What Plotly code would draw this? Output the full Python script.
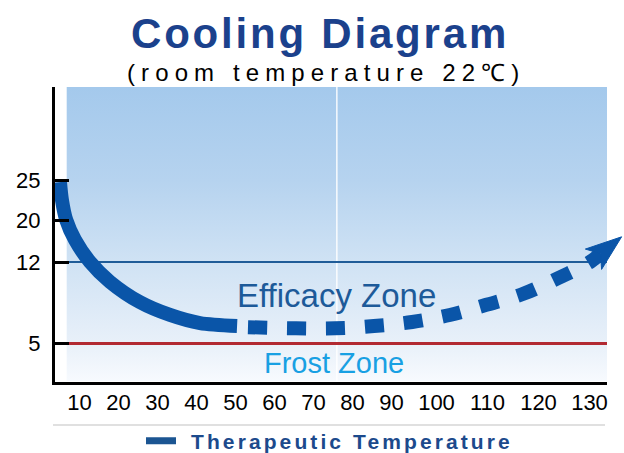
import numpy as np
import plotly.graph_objects as go

# ---- data -------------------------------------------------------------
# Therapeutic temperature (°C) against time (minutes)
MEASURED_MIN = [5.0, 5.5, 6.6, 8.85, 12.7, 17.8, 25.5, 33.2, 40.9, 50.4]
MEASURED_TEMP = [24.75, 22.5, 20.0, 16.2, 12.0, 10.3, 8.55, 7.45, 6.75, 6.5]
PROJECTED_MIN = [53.2, 65.5, 75.5, 85.5, 94.6, 102.6, 109.6, 116.9, 123.8, 130.1, 136.3]
PROJECTED_TEMP = [6.4, 6.3, 6.3, 6.5, 6.85, 7.45, 8.3, 9.25, 10.6, 12.0, 16.8]

EFFICACY_LIMIT = 12
FROST_LIMIT = 5

X_LABELS = [10, 20, 30, 40, 50, 60, 70, 80, 90, 100, 110, 120, 130]
Y_LABELS = [5, 12, 20, 25]

# ---- layout -----------------------------------------------------------
W, H = 624, 453
M_L, M_R, M_T, M_B = 55, 0, 87, 70
PW, PH = W - M_L - M_R, H - M_T - M_B   # axis units == screen pixels

# schematic (non-uniform) axis scales: label -> position on the axis
X_TICK_POS = [24.5, 63.5, 102.5, 141.5, 180.5, 219.5, 258.5, 297.5, 336.5,
              381.5, 432.5, 483.5, 534.5]
Y_TICK_POS = [39.5, 121, 163, 203]
PANEL_X = [11.7, 552]
PANEL_Y = [2, PH]

# arrow head geometry (pixels)
HEAD_LEN, HEAD_HALF_W, HEAD_NOTCH = 36, 13, 9

CURVE = "#0a55a8"
LEGEND_DASH = "#1b5592"
FONT = "Liberation Sans, Arial, sans-serif"


def scale(vals, knots, pos):
    vals = np.asarray(vals, float)
    out = np.interp(vals, knots, pos)
    lo = (pos[1] - pos[0]) / (knots[1] - knots[0])
    hi = (pos[-1] - pos[-2]) / (knots[-1] - knots[-2])
    out = np.where(vals < knots[0], pos[0] + (vals - knots[0]) * lo, out)
    out = np.where(vals > knots[-1], pos[-1] + (vals - knots[-1]) * hi, out)
    return out


def sx(m):
    return scale(m, X_LABELS, X_TICK_POS)


def sy(t):
    return scale(t, Y_LABELS, Y_TICK_POS)


def px(x):
    return (x - M_L) / PW


def py(y):
    return (H - M_B - y) / PH


fig = go.Figure()

# gradient panel
fig.add_trace(go.Scatter(
    x=[PANEL_X[0], PANEL_X[1], PANEL_X[1], PANEL_X[0], PANEL_X[0]],
    y=[PANEL_Y[0], PANEL_Y[0], PANEL_Y[1], PANEL_Y[1], PANEL_Y[0]],
    mode="none", fill="toself", hoverinfo="skip", showlegend=False,
    fillgradient=dict(
        type="vertical", start=PANEL_Y[0], stop=PANEL_Y[1],
        colorscale=[[0.0, "#f7fafe"], [0.13, "#e8f0f9"], [0.41, "#cfe2f4"],
                    [0.68, "#b6d3ef"], [1.0, "#a4c9ec"]],
    ),
))

# panel divider
mid = (PANEL_X[0] + PANEL_X[1]) / 2
fig.add_trace(go.Scatter(
    x=[mid, mid], y=PANEL_Y, mode="lines", hoverinfo="skip", showlegend=False,
    line=dict(color="rgba(255,255,255,0.9)", width=1.5),
))

# efficacy / frost limits
for val, col, w in [(EFFICACY_LIMIT, "#1f5c98", 2), (FROST_LIMIT, "#b22a32", 3)]:
    yv = float(sy(val))
    fig.add_trace(go.Scatter(
        x=[PANEL_X[0], PANEL_X[1]], y=[yv, yv], mode="lines",
        hoverinfo="skip", showlegend=False, line=dict(color=col, width=w),
    ))

# measured part of the curve
fig.add_trace(go.Scatter(
    x=sx(MEASURED_MIN), y=sy(MEASURED_TEMP), mode="lines",
    line=dict(color=CURVE, width=14, shape="spline", smoothing=0.8),
    showlegend=False,
))

# projected part: dashed curve ending in an arrow head at the last point
proj_x, proj_y = sx(PROJECTED_MIN), sy(PROJECTED_TEMP)
tip = np.array([proj_x[-1], proj_y[-1]])
d = tip - np.array([proj_x[-2], proj_y[-2]])
d /= np.hypot(*d)
nrm = np.array([-d[1], d[0]])
base = tip - HEAD_LEN * d
notch = tip - (HEAD_LEN - HEAD_NOTCH) * d
head = np.array([tip, base + HEAD_HALF_W * nrm, notch, base - HEAD_HALF_W * nrm, tip])

fig.add_trace(go.Scatter(
    x=np.append(proj_x[:-1], notch[0]), y=np.append(proj_y[:-1], notch[1]),
    mode="lines", showlegend=False,
    line=dict(color=CURVE, width=14, shape="spline", smoothing=1.0, dash="19px,20px"),
))
fig.add_trace(go.Scatter(
    x=head[:, 0], y=head[:, 1], mode="lines", fill="toself",
    fillcolor=CURVE, line=dict(color=CURVE, width=1),
    hoverinfo="skip", showlegend=False,
))

# legend entry
fig.add_trace(go.Scatter(
    x=[None], y=[None], mode="lines",
    line=dict(color=LEGEND_DASH, width=7, dash="30px,100px"),
    name='<span style="letter-spacing:3.1px">Therapeutic Temperature</span>',
))

fig.update_layout(
    width=W, height=H,
    margin=dict(l=M_L, r=M_R, t=M_T, b=M_B, autoexpand=False),
    paper_bgcolor="white", plot_bgcolor="white",
    font=dict(family=FONT, color="black"),
    xaxis=dict(
        range=[0, PW], showgrid=False, zeroline=False, showline=False,
        tickmode="array", tickvals=X_TICK_POS, ticktext=[str(v) for v in X_LABELS],
        ticks="", ticklabelstandoff=4, automargin=False,
        tickfont=dict(size=22, family=FONT, color="black"),
    ),
    yaxis=dict(
        range=[0, PH], showgrid=False, zeroline=False,
        showline=True, linewidth=3, linecolor="black",
        tickmode="array", tickvals=Y_TICK_POS, ticktext=[str(v) for v in Y_LABELS],
        ticks="inside", ticklen=14, tickwidth=2.5, tickcolor="black",
        ticklabelstandoff=7, automargin=False,
        tickfont=dict(size=22, family=FONT, color="black"),
    ),
    showlegend=True,
    legend=dict(
        orientation="h", xref="paper", yref="paper",
        x=px(141), xanchor="left", y=py(441), yanchor="middle",
        itemwidth=40, font=dict(size=21, family=FONT, color="#1c4a8c", weight="bold"),
        bgcolor="rgba(0,0,0,0)",
    ),
    shapes=[
        # x axis line
        dict(type="line", xref="paper", yref="paper",
             x0=px(52), x1=px(55) + PANEL_X[1] / PW, y0=py(383.5), y1=py(383.5),
             line=dict(color="black", width=3)),
        # separator above the legend
        dict(type="line", xref="paper", yref="paper",
             x0=px(53), x1=px(605), y0=py(425), y1=py(425),
             line=dict(color="#e0e0e0", width=2)),
    ],
    annotations=[
        dict(text='<span style="letter-spacing:2.8px">Cooling Diagram</span>',
             xref="paper", yref="paper", x=px(320), y=py(33.5),
             xanchor="center", yanchor="middle", showarrow=False,
             font=dict(size=42, family=FONT, color="#1b418c", weight="bold")),
        dict(text='<span style="letter-spacing:6.1px">(room temperature 22℃)</span>',
             xref="paper", yref="paper", x=px(326), y=py(72),
             xanchor="center", yanchor="middle", showarrow=False,
             font=dict(size=24, family=FONT, color="black")),
        dict(text="Efficacy Zone", xref="x", yref="y", x=mid, y=float(sy(9.1)),
             xanchor="center", yanchor="middle", showarrow=False,
             font=dict(size=33, family=FONT, color="#1d5a99")),
        dict(text="Frost Zone", xref="x", yref="y", x=mid - 3, y=float(sy(3.3)),
             xanchor="center", yanchor="middle", showarrow=False,
             font=dict(size=29, family=FONT, color="#18a0e3")),
    ],
)

fig.write_html("out.html")
